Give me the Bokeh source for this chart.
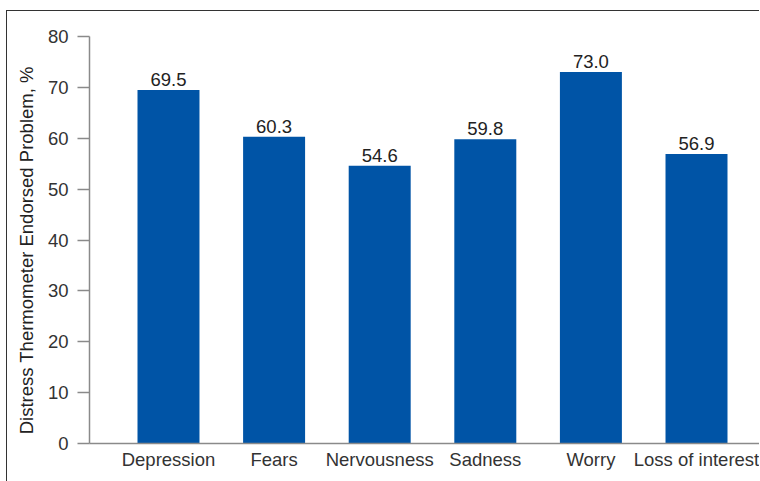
from bokeh.plotting import figure
from bokeh.models import ColumnDataSource, FixedTicker, Range1d, LabelSet
from bokeh.core.properties import value
from bokeh.embed import file_html
from bokeh.resources import INLINE

# Share of patients endorsing each emotional problem on the Distress Thermometer
categories = ["Depression", "Fears", "Nervousness", "Sadness", "Worry", "Loss of interest"]
percent = [69.5, 60.3, 54.6, 59.8, 73.0, 56.9]
y_ticks = [0, 10, 20, 30, 40, 50, 60, 70, 80]
y_title = "Distress Thermometer Endorsed Problem, %"

FONT = "Liberation Sans"
SIZE = "18.5px"
BAR_COLOR = "#0054a6"
AXIS_GRAY = "#8a8a8a"

positions = list(range(len(categories)))
src = ColumnDataSource(dict(
    x=positions,
    top=percent,
    label=[f"{v:.1f}" for v in percent],
))

p = figure(
    width=753, height=471,
    output_backend="svg", toolbar_location=None,
    x_range=Range1d(-0.748, 5.606), y_range=Range1d(0, 80),
    min_border_left=82, min_border_right=0,
    min_border_top=25, min_border_bottom=39,
)
p.styles = {
    "margin-left": "6px",
    "margin-top": "10px",
    "border-left": "1px solid #333",
    "border-top": "1px solid #333",
}

p.vbar(x="x", top="top", bottom=0, width=0.587, source=src,
       fill_color=BAR_COLOR, line_color=None)

p.add_layout(LabelSet(
    x="x", y="top", text="label", source=src,
    text_align="center", text_baseline="bottom", y_offset=4,
    text_font=value(FONT), text_font_size=SIZE, text_color="#222222",
))

# x axis: category names under each bar, no ticks
p.xaxis.ticker = FixedTicker(ticks=positions)
p.xaxis.major_label_overrides = {i: c for i, c in zip(positions, categories)}
p.xaxis.major_tick_line_color = None
p.xaxis.minor_tick_line_color = None
p.xaxis.major_tick_out = 0
p.xaxis.major_tick_in = 0
p.xaxis.major_label_standoff = 5
p.xaxis.axis_line_color = AXIS_GRAY
p.xaxis.axis_line_width = 1.5
p.xaxis.major_label_text_font = FONT
p.xaxis.major_label_text_font_size = SIZE
p.xaxis.major_label_text_color = "#333333"

# y axis: percentages with outward ticks
p.yaxis.ticker = FixedTicker(ticks=y_ticks)
p.yaxis.major_tick_out = 12
p.yaxis.major_tick_in = 0
p.yaxis.minor_tick_line_color = None
p.yaxis.major_tick_line_color = AXIS_GRAY
p.yaxis.major_tick_line_width = 1.5
p.yaxis.axis_line_color = AXIS_GRAY
p.yaxis.axis_line_width = 1.5
p.yaxis.major_label_standoff = 9
p.yaxis.major_label_text_font = FONT
p.yaxis.major_label_text_font_size = SIZE
p.yaxis.major_label_text_color = "#333333"
# trailing no-break spaces push the rotated title a little toward the baseline
p.yaxis.axis_label = y_title + "\u00a0" * 4
p.yaxis.axis_label_text_font = FONT
p.yaxis.axis_label_text_font_style = "normal"
p.yaxis.axis_label_text_font_size = SIZE
p.yaxis.axis_label_text_color = "#222222"
p.yaxis.axis_label_standoff = 8

p.grid.visible = False
p.outline_line_color = None

open("out.html", "w").write(file_html(p, INLINE))
